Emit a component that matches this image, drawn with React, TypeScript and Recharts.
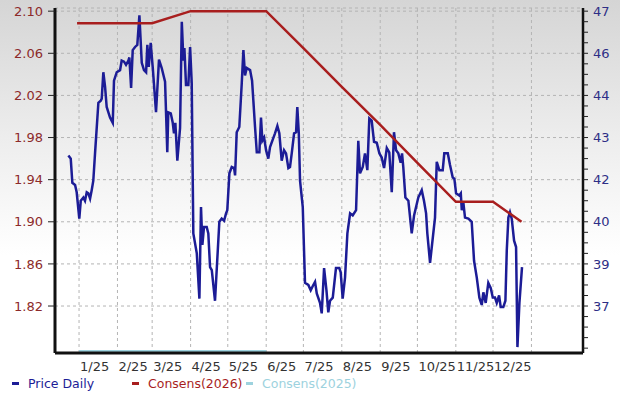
import React from "react";
import { CartesianGrid, ComposedChart, Line, XAxis, YAxis } from "recharts";

// days counted from 1 Jan 2025
const priceDays = [
  -8.6, -6.7, -5.4, -3.2, -1.9, 0.2, 1.4, 3.5, 4.8, 6.2, 7.5, 8.9, 10.2, 11.5, 12.9, 15.6, 17.5, 18.3, 19.6, 21.0,
  22.3, 25.0, 27.2, 28.2, 30.4, 33.1, 34.4, 36.3, 37.9, 39.8, 40.6, 42.0, 43.3, 45.2, 47.0, 48.7, 49.2, 50.6, 52.4, 54.1,
  55.1, 56.2, 57.8, 59.5, 62.1, 64.5, 66.7, 69.4, 71.2, 72.0, 74.0, 75.6, 76.6, 77.7, 79.3, 81.5, 82.9, 84.2, 85.0, 86.3,
  88.2, 89.6, 90.9, 92.2, 95.0, 97.1, 98.4, 99.5, 100.8, 103.0, 104.3, 105.7, 107.1, 109.7, 113.2, 115.1, 117.0, 118.6, 119.6, 121.3,
  123.2, 125.1, 125.9, 127.2, 129.3, 131.3, 132.6, 133.9, 135.3, 138.0, 139.6, 142.0, 143.4, 145.5, 146.8, 147.9, 149.3, 150.9, 152.7, 154.1,
  158.1, 160.0, 161.6, 163.5, 165.4, 167.0, 168.9, 170.2, 171.6, 173.5, 175.1, 176.1, 177.3, 178.3, 180.5, 182.3, 185.0, 186.9, 189.0, 190.4,
  191.8, 194.4, 195.8, 197.7, 199.6, 201.1, 202.5, 204.7, 207.3, 210.0, 211.1, 212.7, 214.6, 216.5, 218.7, 220.8, 223.5, 225.3, 226.7, 228.9,
  230.7, 232.6, 234.2, 236.1, 238.0, 240.2, 242.3, 244.2, 246.1, 248.3, 250.3, 252.3, 254.1, 255.8, 257.6, 259.5, 260.6, 261.6, 263.3, 265.7,
  268.4, 270.3, 273.7, 276.5, 278.3, 280.0, 281.0, 283.2, 287.2, 288.6, 290.7, 293.4, 294.7, 297.5, 299.3, 301.5, 302.8, 304.2, 306.8, 308.0,
  308.8, 310.1, 311.4, 314.1, 316.8, 318.7, 320.9, 323.0, 324.9, 326.2, 328.1, 330.2, 332.2, 333.8, 335.6, 337.0, 338.9, 340.2, 342.3, 344.0,
  345.1, 346.4, 347.7, 349.1, 351.0, 352.6, 353.7, 355.3, 357.4,
];
const priceValues = [
  1.963, 1.96, 1.937, 1.935, 1.928, 1.903, 1.92, 1.923, 1.92, 1.928, 1.927, 1.922, 1.93, 1.939, 1.965, 2.013, 2.015, 2.017, 2.042, 2.028,
  2.009, 1.999, 1.994, 2.034, 2.042, 2.044, 2.053, 2.052, 2.049, 2.053, 2.056, 2.027, 2.063, 2.066, 2.068, 2.096, 2.084, 2.051, 2.044, 2.042,
  2.068, 2.047, 2.07, 2.046, 2.004, 2.054, 2.046, 2.033, 1.966, 2.004, 2.003, 1.994, 1.984, 1.994, 1.958, 1.989, 2.09, 2.053, 2.065, 2.03,
  2.03, 2.066, 2.032, 1.889, 1.87, 1.827, 1.914, 1.878, 1.895, 1.895, 1.889, 1.857, 1.854, 1.825, 1.9, 1.903, 1.901, 1.908, 1.911, 1.946,
  1.952, 1.951, 1.944, 1.985, 1.99, 2.032, 2.063, 2.039, 2.046, 2.044, 2.034, 1.99, 1.966, 1.966, 1.999, 1.977, 1.98, 1.968, 1.96, 1.971,
  1.984, 1.991, 1.984, 1.958, 1.968, 1.965, 1.951, 1.952, 1.965, 1.984, 1.985, 2.009, 1.984, 1.939, 1.914, 1.842, 1.84, 1.835, 1.84, 1.843,
  1.832, 1.823, 1.813, 1.856, 1.835, 1.814, 1.825, 1.828, 1.856, 1.856, 1.852, 1.827, 1.847, 1.889, 1.908, 1.906, 1.911, 1.977, 1.946, 1.952,
  1.965, 1.949, 1.998, 1.996, 1.976, 1.975, 1.965, 1.961, 1.951, 1.97, 1.966, 1.928, 1.985, 1.968, 1.965, 1.956, 1.965, 1.952, 1.923, 1.92,
  1.889, 1.906, 1.923, 1.93, 1.92, 1.908, 1.889, 1.861, 1.904, 1.957, 1.949, 1.949, 1.965, 1.965, 1.954, 1.942, 1.941, 1.927, 1.925, 1.927,
  1.911, 1.918, 1.904, 1.903, 1.9, 1.863, 1.847, 1.828, 1.821, 1.833, 1.823, 1.842, 1.837, 1.828, 1.828, 1.823, 1.83, 1.819, 1.819, 1.825,
  1.873, 1.904, 1.909, 1.903, 1.882, 1.876, 1.781, 1.823, 1.857,
];

const consens2026Days = [-1.6, 59, 90, 151, 181, 212, 243, 273, 304, 334, 357];
const consens2026Values = [2.0886, 2.0886, 2.1, 2.1, 2.065, 2.028, 1.992, 1.956, 1.919, 1.919, 1.9];

const consens2025Days = [0, 151];
const consens2025Values = [1.777, 1.777];

const monthTicks = [0, 31, 59, 90, 120, 151, 181, 212, 243, 273, 304, 334, 365];
const monthLabels = ["1/25", "2/25", "3/25", "4/25", "5/25", "6/25", "7/25", "8/25", "9/25", "10/25", "11/25", "12/25", ""];

const leftTicks = [1.82, 1.86, 1.9, 1.94, 1.98, 2.02, 2.06, 2.1];
const rightMajorLabels = ["37", "39", "40", "42", "43", "44", "46", "47"];
const rightTicks = [
  1.78, 1.79, 1.8, 1.81, 1.82, 1.83, 1.84, 1.85, 1.86, 1.87, 1.88, 1.89, 1.9, 1.91, 1.92, 1.93, 1.94, 1.95, 1.96, 1.97,
  1.98, 1.99, 2.0, 2.01, 2.02, 2.03, 2.04, 2.05, 2.06, 2.07, 2.08, 2.09, 2.1,
];

const priceData = priceDays.map((d, i) => ({ d, v: priceValues[i] }));
const c26Data = consens2026Days.map((d, i) => ({ d, v: consens2026Values[i] }));
const c25Data = consens2025Days.map((d, i) => ({ d, v: consens2025Values[i] }));

const FONT = "DejaVu Sans";
const BLUE = "#1c1c96";
const RED = "#a81e1e";
const CYAN = "#9dd2de";

function rightLabel(v: number) {
  const idx = leftTicks.findIndex((t) => Math.abs(t - v) < 0.001);
  return idx >= 0 ? rightMajorLabels[idx] : "";
}

function MonthTick(props: any) {
  const { x, y, payload } = props;
  const idx = monthTicks.indexOf(payload.value);
  return (
    <text x={x + 1} y={y + 18} textAnchor="start" fill="#333" fontSize={13} fontFamily={FONT}>
      {monthLabels[idx]}
    </text>
  );
}

function LegendItem({ left, color, text }: { left: number; color: string; text: string }) {
  return (
    <div style={{ position: "absolute", left, top: 376, display: "flex", alignItems: "center", whiteSpace: "nowrap" }}>
      <span style={{ display: "inline-block", width: 7, height: 3, background: color, marginRight: 9 }} />
      <span style={{ color, fontSize: 12.5, fontFamily: FONT }}>{text}</span>
    </div>
  );
}

export default function App() {
  return (
    <div
      style={{
        position: "absolute",
        left: 0,
        top: 0,
        width: 620,
        height: 393,
        background: "linear-gradient(to bottom, #d5d5d5 0%, #ededed 35%, #ffffff 65%)",
      }}
    >
      <ComposedChart width={620} height={393} margin={{ top: 8, right: 0, left: 0, bottom: 0 }}>
        <CartesianGrid yAxisId="left" stroke="#b4b4b4" strokeDasharray="3 3" />
        <XAxis
          dataKey="d"
          type="number"
          domain={[-19.4, 406.6]}
          ticks={monthTicks}
          allowDataOverflow
          height={40}
          tickLine={false}
          tickSize={0}
          tickMargin={0}
          axisLine={{ stroke: "#111", strokeWidth: 3 }}
          tick={<MonthTick />}
          interval={0}
        />
        <YAxis
          yAxisId="left"
          width={55}
          domain={[1.7754, 2.103]}
          ticks={leftTicks}
          allowDataOverflow
          interval={0}
          tickFormatter={(v: number) => v.toFixed(2)}
          tick={{ fill: "#8c2a2a", fontSize: 13, fontFamily: FONT }}
          tickLine={{ stroke: "#222" }}
          tickSize={7}
          tickMargin={5}
          axisLine={{ stroke: "#111", strokeWidth: 3 }}
        />
        <YAxis
          yAxisId="right"
          orientation="right"
          width={37}
          domain={[1.7754, 2.103]}
          ticks={rightTicks}
          allowDataOverflow
          interval={0}
          tickFormatter={rightLabel}
          tick={{ fill: "#2e2e86", fontSize: 13, fontFamily: FONT }}
          tickLine={{ stroke: "#222" }}
          tickSize={5}
          tickMargin={5}
          axisLine={{ stroke: "#111", strokeWidth: 2.5 }}
        />
        <Line
          yAxisId="left"
          data={c25Data}
          dataKey="v"
          stroke={CYAN}
          strokeWidth={2.5}
          dot={false}
          isAnimationActive={false}
        />
        <Line
          yAxisId="left"
          data={priceData}
          dataKey="v"
          stroke={BLUE}
          strokeWidth={2.5}
          dot={false}
          isAnimationActive={false}
        />
        <Line
          yAxisId="left"
          data={c26Data}
          dataKey="v"
          stroke={RED}
          strokeWidth={2.5}
          dot={false}
          isAnimationActive={false}
        />
      </ComposedChart>
      <LegendItem left={12} color={BLUE} text="Price Daily" />
      <LegendItem left={132} color={RED} text="Consens(2026)" />
      <LegendItem left={246} color={CYAN} text="Consens(2025)" />
    </div>
  );
}
